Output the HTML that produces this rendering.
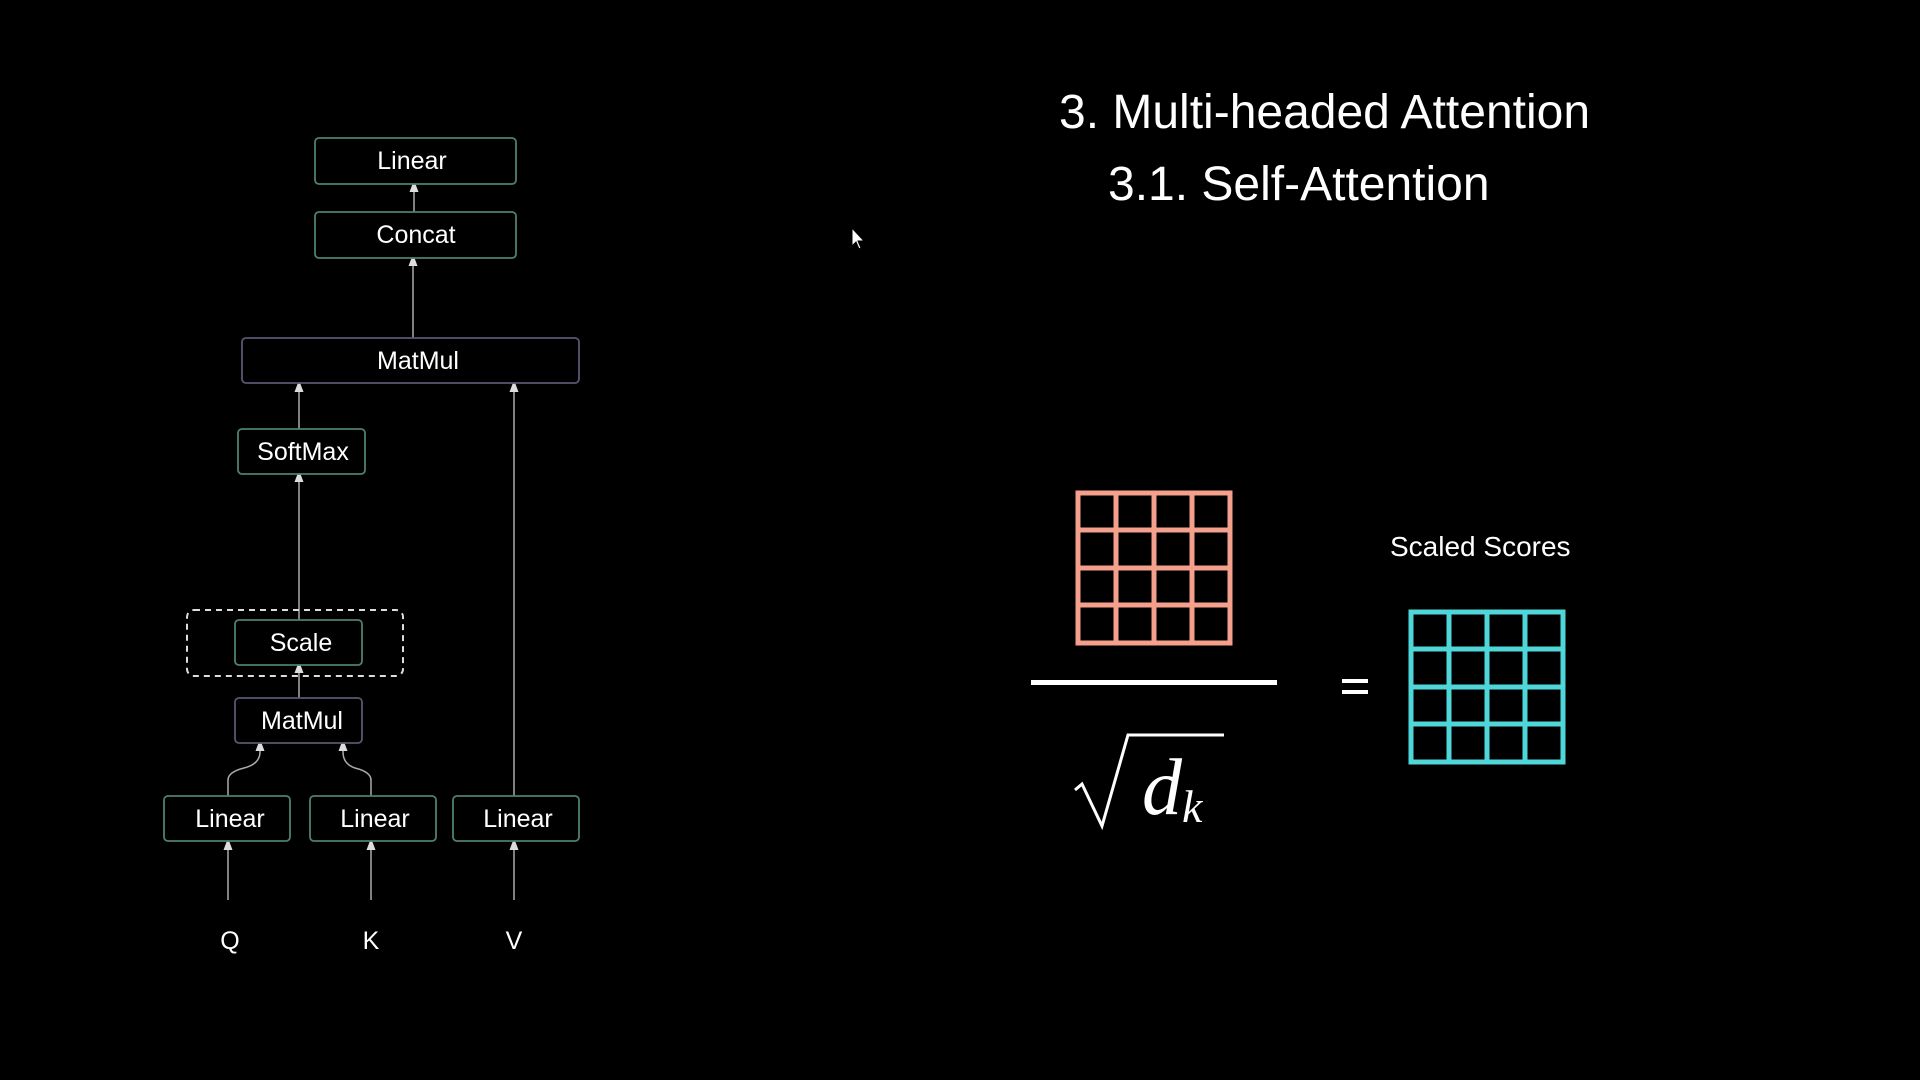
<!DOCTYPE html>
<html><head><meta charset="utf-8"><style>
html,body{margin:0;padding:0;background:#000;width:1920px;height:1080px;overflow:hidden}
</style></head><body>
<svg width="1920" height="1080" viewBox="0 0 1920 1080" xmlns="http://www.w3.org/2000/svg" font-family="Liberation Sans, sans-serif">
<defs>
<marker id="a" markerWidth="8" markerHeight="8" refX="4" refY="4" orient="auto"><path d="M0,1 L8,4 L0,7 z" fill="#ddd"/></marker>
</defs>
<g fill="none" stroke="#aaa" stroke-width="1.5" marker-end="url(#a)">
<line x1="414" y1="212" x2="414" y2="186"/>
<line x1="413" y1="338" x2="413" y2="260"/>
<line x1="299" y1="429" x2="299" y2="386"/>
<line x1="514" y1="796" x2="514" y2="386"/>
<line x1="299" y1="620" x2="299" y2="476"/>
<line x1="299" y1="698" x2="299" y2="667"/>
<line x1="228" y1="900" x2="228" y2="844"/>
<line x1="371" y1="900" x2="371" y2="844"/>
<line x1="514" y1="900" x2="514" y2="844"/>
<path d="M228,796 L228,780 Q228,772 244,768 Q260,764 260,752 L260,745"/>
<path d="M371,796 L371,780 Q371,772 355,768 Q343,764 343,752 L343,745"/>
</g>
<rect x="187" y="610" width="216" height="66" rx="7" fill="none" stroke="#ddd" stroke-width="2" stroke-dasharray="6,5"/>
<g stroke-width="1.8" fill="#000">
<rect x="315" y="138" width="201" height="46" rx="4" stroke="#4e8070"/>
<rect x="315" y="212" width="201" height="46" rx="4" stroke="#4e8070"/>
<rect x="242" y="338" width="337" height="45" rx="4" stroke="#5a5670"/>
<rect x="238" y="429" width="127" height="45" rx="4" stroke="#4e8070"/>
<rect x="235" y="620" width="127" height="45" rx="4" stroke="#4e8070"/>
<rect x="235" y="698" width="127" height="45" rx="4" stroke="#5a5670"/>
<rect x="164" y="796" width="126" height="45" rx="4" stroke="#4e8070"/>
<rect x="310" y="796" width="126" height="45" rx="4" stroke="#4e8070"/>
<rect x="453" y="796" width="126" height="45" rx="4" stroke="#4e8070"/>
</g>
<g fill="#fff" font-size="25" text-anchor="middle">
<text x="412" y="169">Linear</text>
<text x="416" y="243">Concat</text>
<text x="418" y="369">MatMul</text>
<text x="303" y="460">SoftMax</text>
<text x="301" y="651">Scale</text>
<text x="302" y="729">MatMul</text>
<text x="230" y="827">Linear</text>
<text x="375" y="827">Linear</text>
<text x="518" y="827">Linear</text>
<text x="230" y="949">Q</text>
<text x="371" y="949">K</text>
<text x="514" y="949">V</text>
</g>
<g fill="#fff">
<text x="1059" y="128" font-size="48">3. Multi-headed Attention</text>
<text x="1108" y="200" font-size="48">3.1. Self-Attention</text>
<text x="1390" y="556" font-size="28">Scaled Scores</text>
</g>
<path d="M852,228 L852,246 L856,242 L859,249 L861,248 L858,241 L864,241 Z" fill="#fff" stroke="#000" stroke-width="1"/>
<g stroke="#f4a08c" stroke-width="5" fill="none">
<rect x="1078" y="493" width="152" height="150"/>
<line x1="1116" y1="493" x2="1116" y2="643"/><line x1="1154" y1="493" x2="1154" y2="643"/><line x1="1192" y1="493" x2="1192" y2="643"/>
<line x1="1078" y1="530" x2="1230" y2="530"/><line x1="1078" y1="568" x2="1230" y2="568"/><line x1="1078" y1="605" x2="1230" y2="605"/>
</g>
<g stroke="#4fd6d8" stroke-width="5" fill="none">
<rect x="1411" y="612" width="152" height="150"/>
<line x1="1449" y1="612" x2="1449" y2="762"/><line x1="1487" y1="612" x2="1487" y2="762"/><line x1="1525" y1="612" x2="1525" y2="762"/>
<line x1="1411" y1="649" x2="1563" y2="649"/><line x1="1411" y1="687" x2="1563" y2="687"/><line x1="1411" y1="724" x2="1563" y2="724"/>
</g>
<rect x="1031" y="680" width="246" height="5" fill="#fff"/>
<rect x="1342" y="679" width="26" height="4" fill="#fff"/>
<rect x="1342" y="690" width="26" height="4" fill="#fff"/>
<path d="M1075,790 L1082,784 L1102,826 L1128,735 L1224,735" fill="none" stroke="#fff" stroke-width="3"/>
<text x="1142" y="814" fill="#fff" font-family="Liberation Serif, serif" font-style="italic" font-size="80">d</text>
<text x="1182" y="822" fill="#fff" font-family="Liberation Serif, serif" font-style="italic" font-size="46">k</text>
</svg>
</body></html>
